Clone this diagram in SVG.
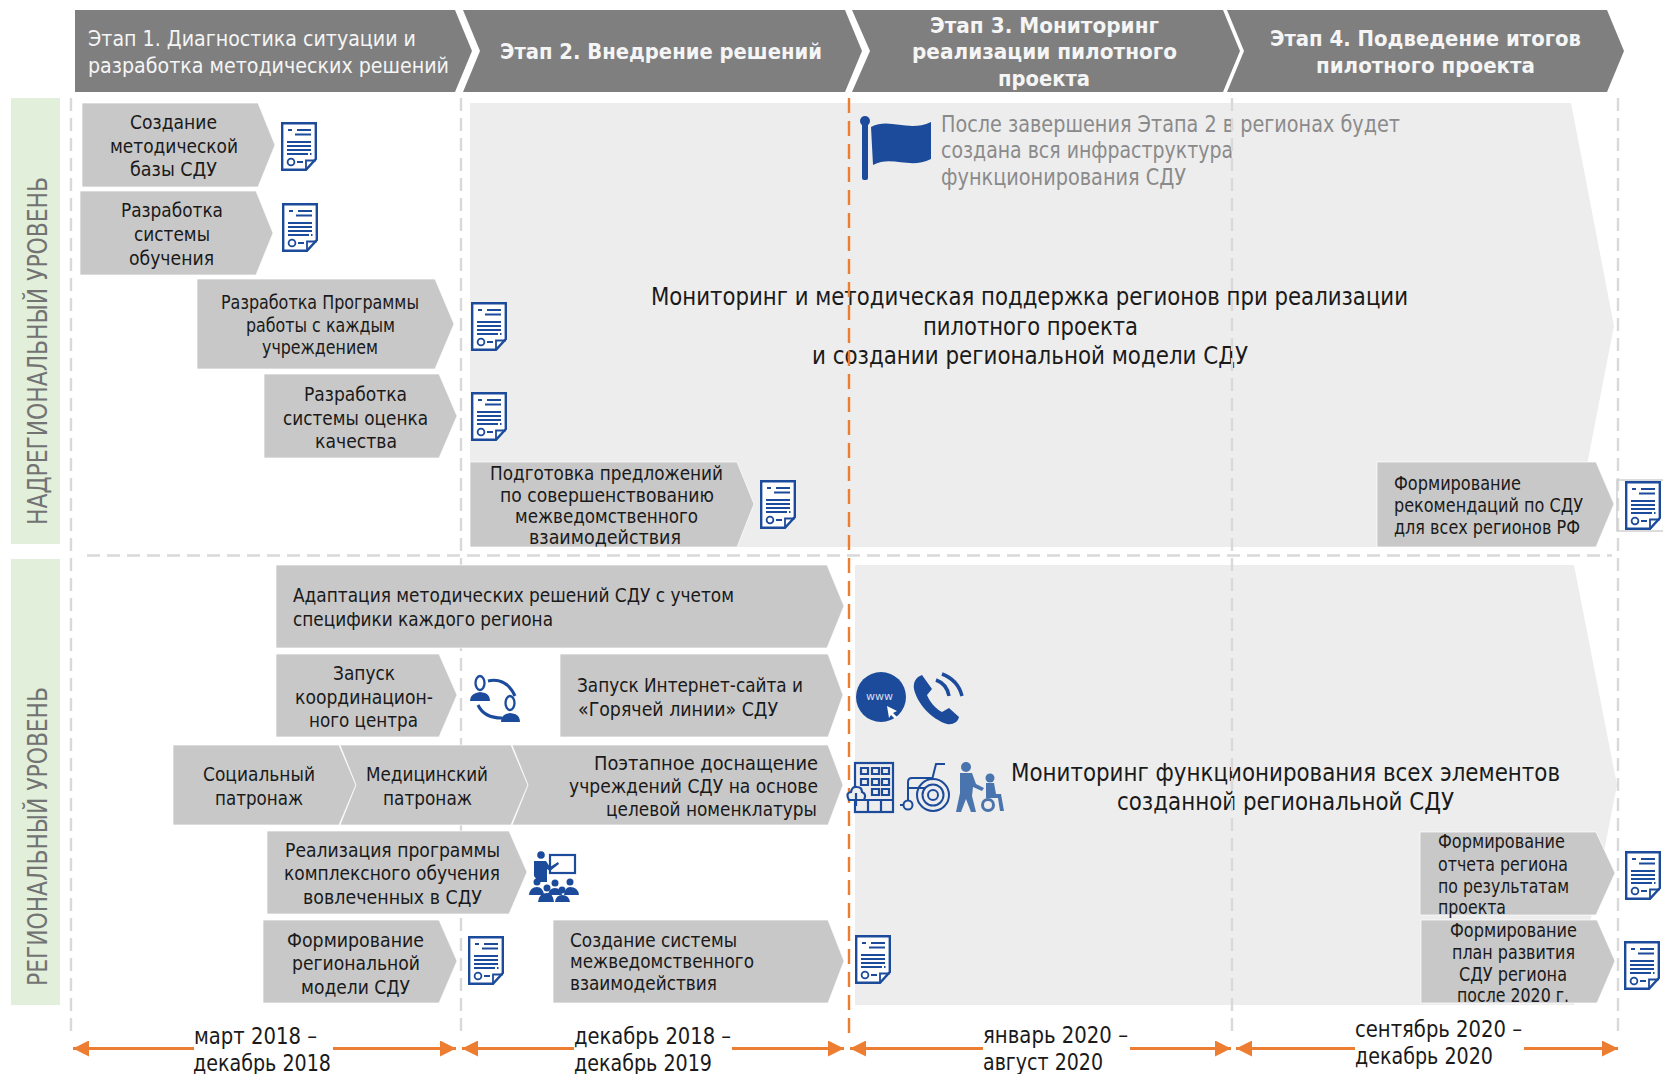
<svg xmlns="http://www.w3.org/2000/svg" width="1663" height="1074" viewBox="0 0 1663 1074">
<style>
text{font-family:"DejaVu Sans","Noto Sans",sans-serif;font-stretch:condensed;fill:#1a1a1a;font-size:20px}
.hd{fill:#7f7f7f}.ch{fill:#c8c8c8;stroke:#fff;stroke-width:1;stroke-opacity:.7}.bg{fill:#ededed}.gr{fill:#e2efda}
.hl{fill:#f5f5f5;font-size:22px}.hb{fill:#f5f5f5;font-size:22px;font-weight:bold}
.lv{fill:#737373;font-size:27px}.big{font-size:24px}.note{font-size:23px;fill:#8a8a8a}.dt{font-size:23px}
.dash{stroke:#d9d9d9;stroke-width:2.4;stroke-dasharray:13 7;fill:none}
.org{stroke:#ed7d31;stroke-width:2.4;stroke-dasharray:15 8;fill:none}
.arr{stroke:#ed7d31;stroke-width:3;fill:none;marker-end:url(#ah)}
.ics{fill:#1d4b9b}.icl{fill:#4a74ad}
.icw{fill:none;stroke:#1d4b9b;stroke-width:2}
</style>
<defs>
<marker id="ah" markerUnits="userSpaceOnUse" markerWidth="16" markerHeight="16" refX="16" refY="8" orient="auto"><path d="M0,0L16,8L0,16Z" fill="#ed7d31"/></marker>
<symbol id="doc" viewBox="0 0 36 49" width="36" height="49" overflow="visible">
<path d="M1.2,1.2H34.8V37L25,47.8H1.2Z" fill="#fff" stroke="#1d4b9b" stroke-width="2.4"/>
<path d="M25,47.8V38.5H34.8" fill="none" stroke="#1d4b9b" stroke-width="1.8"/>
<path d="M7,8h4M16,8h14M14,12.5h16M6,20h24M6,24h24M6,28h24M6,32h21M29,32h1.5M16,40h6" stroke="#1d4b9b" stroke-width="1.8" fill="none"/>
<circle cx="10" cy="40" r="3.4" fill="none" stroke="#1d4b9b" stroke-width="1.8"/>
</symbol>
</defs>

<g id="background-arrows">
<path class="bg" d="M470,103H1571L1614,326L1571,547H470Z"/>
<path class="bg" d="M855,565H1574L1617,785L1574,1005H855Z"/>
</g>
<g id="level-bands">
<rect class="gr" x="11" y="98" width="49" height="446"/>
<rect class="gr" x="11" y="559" width="49" height="446"/>
<text class="lv" transform="translate(47,525) rotate(-90)" textLength="348" lengthAdjust="spacingAndGlyphs">НАДРЕГИОНАЛЬНЫЙ УРОВЕНЬ</text>
<text class="lv" transform="translate(47,986) rotate(-90)" textLength="299" lengthAdjust="spacingAndGlyphs">РЕГИОНАЛЬНЫЙ УРОВЕНЬ</text>
</g>

<g id="dates">
<text class="dt" x="194" y="1044" textLength="123" lengthAdjust="spacingAndGlyphs">март 2018 –</text>
<text class="dt" x="193" y="1071" textLength="138" lengthAdjust="spacingAndGlyphs">декабрь 2018</text>
<text class="dt" x="574" y="1044" textLength="157" lengthAdjust="spacingAndGlyphs">декабрь 2018 –</text>
<text class="dt" x="574" y="1071" textLength="138" lengthAdjust="spacingAndGlyphs">декабрь 2019</text>
<text class="dt" x="983" y="1043" textLength="145" lengthAdjust="spacingAndGlyphs">январь 2020 –</text>
<text class="dt" x="983" y="1070" textLength="120" lengthAdjust="spacingAndGlyphs">август 2020</text>
<text class="dt" x="1355" y="1037" textLength="167" lengthAdjust="spacingAndGlyphs">сентябрь 2020 –</text>
<text class="dt" x="1355" y="1064" textLength="138" lengthAdjust="spacingAndGlyphs">декабрь 2020</text>
</g>

<g id="note-flag">
<circle class="ics" cx="865" cy="121" r="5"/><rect class="ics" x="862" y="121" width="6" height="59" rx="2"/>
<path class="ics" d="M871,127C890,117 908,133 931,122V159C910,170 892,155 873,165Z"/>
<text class="note" x="941" y="132" textLength="459" lengthAdjust="spacingAndGlyphs">После завершения Этапа 2 в регионах будет</text>
<text class="note" x="941" y="158" textLength="292" lengthAdjust="spacingAndGlyphs">создана вся инфраструктура</text>
<text class="note" x="941" y="185" textLength="245" lengthAdjust="spacingAndGlyphs">функционирования СДУ</text>
</g>
<g id="monitoring-1">
<text class="big" x="651" y="305" textLength="757" lengthAdjust="spacingAndGlyphs">Мониторинг и методическая поддержка регионов при реализации</text>
<text class="big" x="923" y="335" textLength="215" lengthAdjust="spacingAndGlyphs">пилотного проекта</text>
<text class="big" x="812" y="364" textLength="436" lengthAdjust="spacingAndGlyphs">и создании региональной модели СДУ</text>
</g>
<g id="monitoring-2">
<text class="big" x="1011" y="781" textLength="549" lengthAdjust="spacingAndGlyphs">Мониторинг функционирования всех элементов</text>
<text class="big" x="1117" y="810" textLength="337" lengthAdjust="spacingAndGlyphs">созданной региональной СДУ</text>
</g>

<g id="connectors">
<path class="dash" d="M71,98V1034M461,98V1034M1232,98V1034M1618,98V1034M87,555.500H1612"/>
<path class="org" d="M849,98V1034"/>
<path class="arr" d="M194,1048.500H73"/><path class="arr" d="M333,1048.500H456"/>
<path class="arr" d="M574,1048.500H462"/><path class="arr" d="M732,1048.500H844"/>
<path class="arr" d="M983,1048.500H850"/><path class="arr" d="M1130,1048.500H1231"/>
<path class="arr" d="M1355,1048.500H1236"/><path class="arr" d="M1524,1048.500H1618"/>
</g>

<g id="stage-1"><path class="hd" d="M75,10H455L472,51L455,92H75Z"/>
<text class="hl" x="88" y="46" textLength="328" lengthAdjust="spacingAndGlyphs">Этап 1. Диагностика ситуации и</text>
<text class="hl" x="88" y="73" textLength="361" lengthAdjust="spacingAndGlyphs">разработка методических решений</text></g>
<g id="stage-2"><path class="hd" d="M463,10H845L862,51L845,92H463L480,51Z"/>
<text class="hb" x="500" y="59" textLength="322" lengthAdjust="spacingAndGlyphs">Этап 2. Внедрение решений</text></g>
<g id="stage-3"><path class="hd" d="M852,10H1223L1240,51L1223,92H852L870,51Z"/>
<text class="hb" x="930" y="33" textLength="229" lengthAdjust="spacingAndGlyphs">Этап 3. Мониторинг</text>
<text class="hb" x="912" y="59" textLength="265" lengthAdjust="spacingAndGlyphs">реализации пилотного</text>
<text class="hb" x="998" y="86" textLength="92" lengthAdjust="spacingAndGlyphs">проекта</text></g>
<g id="stage-4"><path class="hd" d="M1227,10H1607L1624,51L1607,92H1227L1244,51Z"/>
<text class="hb" x="1270" y="46" textLength="311" lengthAdjust="spacingAndGlyphs">Этап 4. Подведение итогов</text>
<text class="hb" x="1316" y="73" textLength="219" lengthAdjust="spacingAndGlyphs">пилотного проекта</text></g>

<g id="node-a"><path class="ch" d="M82,103H258L275,145L258,187H82Z"/>
<text x="130" y="129" textLength="87" lengthAdjust="spacingAndGlyphs">Создание</text>
<text x="110" y="153" textLength="128" lengthAdjust="spacingAndGlyphs">методической</text>
<text x="130" y="176" textLength="87" lengthAdjust="spacingAndGlyphs">базы СДУ</text>
<use href="#doc" x="281" y="122"/></g>
<g id="node-b"><path class="ch" d="M80,191H256L273,233L256,275H80Z"/>
<text x="121" y="217" textLength="102" lengthAdjust="spacingAndGlyphs">Разработка</text>
<text x="134" y="241" textLength="76" lengthAdjust="spacingAndGlyphs">системы</text>
<text x="129" y="265" textLength="85" lengthAdjust="spacingAndGlyphs">обучения</text>
<use href="#doc" x="282" y="203"/></g>
<g id="node-c"><path class="ch" d="M197,279H435L454,324L435,369H197Z"/>
<text x="221" y="309" textLength="198" lengthAdjust="spacingAndGlyphs">Разработка Программы</text>
<text x="246" y="332" textLength="149" lengthAdjust="spacingAndGlyphs">работы с каждым</text>
<text x="262" y="354" textLength="116" lengthAdjust="spacingAndGlyphs">учреждением</text>
<use href="#doc" x="471" y="302"/></g>
<g id="node-d"><path class="ch" d="M264,374H439L457,416L439,458H264Z"/>
<text x="304" y="401" textLength="103" lengthAdjust="spacingAndGlyphs">Разработка</text>
<text x="283" y="425" textLength="145" lengthAdjust="spacingAndGlyphs">системы оценка</text>
<text x="315" y="448" textLength="82" lengthAdjust="spacingAndGlyphs">качества</text>
<use href="#doc" x="471" y="392"/></g>
<g id="node-e"><path class="ch" d="M470,462H737L754,504L737,547H470Z"/>
<text x="490" y="480" textLength="233" lengthAdjust="spacingAndGlyphs">Подготовка предложений</text>
<text x="500" y="502" textLength="214" lengthAdjust="spacingAndGlyphs">по совершенствованию</text>
<text x="515" y="523" textLength="183" lengthAdjust="spacingAndGlyphs">межведомственного</text>
<text x="529" y="544" textLength="152" lengthAdjust="spacingAndGlyphs">взаимодействия</text>
<use href="#doc" x="760" y="480"/></g>
<g id="node-f"><path class="ch" d="M1377,462H1596L1614,504L1596,547H1377Z"/>
<text x="1394" y="490" textLength="127" lengthAdjust="spacingAndGlyphs">Формирование</text>
<text x="1394" y="512" textLength="189" lengthAdjust="spacingAndGlyphs">рекомендаций по СДУ</text>
<text x="1394" y="534" textLength="186" lengthAdjust="spacingAndGlyphs">для всех регионов РФ</text>
<path d="M1663,480H1617V531H1663" fill="none" stroke="#cfcfcf" stroke-width="1.5"/>
<use href="#doc" x="1625" y="481"/></g>
<g id="node-g"><path class="ch" d="M276,565H827L844,606L827,648H276Z"/>
<text x="293" y="602" textLength="441" lengthAdjust="spacingAndGlyphs">Адаптация методических решений СДУ с учетом</text>
<text x="293" y="626" textLength="260" lengthAdjust="spacingAndGlyphs">специфики каждого региона</text></g>
<g id="node-h"><path class="ch" d="M276,654H439L457,695L439,737H276Z"/>
<text x="333" y="680" textLength="62" lengthAdjust="spacingAndGlyphs">Запуск</text>
<text x="295" y="704" textLength="138" lengthAdjust="spacingAndGlyphs">координацион-</text>
<text x="309" y="727" textLength="109" lengthAdjust="spacingAndGlyphs">ного центра</text>
<g id="icon-hub">
<path d="M488,681Q506,677 515,696M478,705Q484,718 502,718" fill="none" stroke="#1d4b9b" stroke-width="3"/>
<path class="ics" d="M470,701Q470,695 476,693L480,692L485,693Q490,695 490,701Z"/>
<ellipse cx="480" cy="683" rx="4.500" ry="7" fill="#fff" stroke="#1d4b9b" stroke-width="2.300"/>
<path class="ics" d="M501,722Q501,716 506,714L510,713L515,714Q520,716 520,722Z"/>
<ellipse cx="510" cy="703" rx="4.500" ry="7" fill="#fff" stroke="#1d4b9b" stroke-width="2.300"/>
</g></g>
<g id="node-i"><path class="ch" d="M560,654H828L843,695L828,737H560Z"/>
<text x="577" y="692" textLength="226" lengthAdjust="spacingAndGlyphs">Запуск Интернет-сайта и</text>
<text x="578" y="716" textLength="200" lengthAdjust="spacingAndGlyphs">«Горячей линии» СДУ</text>
<g id="icon-www"><circle class="ics" cx="881" cy="697" r="25"/>
<text x="866" y="700" style="font-size:11px;fill:#d5def0" textLength="27" lengthAdjust="spacingAndGlyphs">www</text>
<path d="M887,706L897,711L893,713L897,717L895,719L891,715L889,718Z" fill="#fff"/></g>
<g id="icon-phone">
<path class="ics" d="M922,675C916,677 913,682 914,689C917,703 931,719 947,724C953,725 958,722 959,717L949,708L942,712C936,709 929,701 927,695L932,689Z"/>
<path d="M936,680Q947,684 949,696M942,674Q958,680 962,696" fill="none" stroke="#1d4b9b" stroke-width="3.500"/></g></g>
<g id="node-j"><path class="ch" d="M173,745H339L356,785L339,825H173Z"/>
<text x="203" y="781" textLength="112" lengthAdjust="spacingAndGlyphs">Социальный</text>
<text x="215" y="805" textLength="88" lengthAdjust="spacingAndGlyphs">патронаж</text></g>
<g id="node-k"><path class="ch" d="M340,745H511L528,785L511,825H340L356,785Z"/>
<text x="366" y="781" textLength="122" lengthAdjust="spacingAndGlyphs">Медицинский</text>
<text x="383" y="805" textLength="89" lengthAdjust="spacingAndGlyphs">патронаж</text></g>
<g id="node-l"><path class="ch" d="M512,745H828L843,785L828,825H512L528,785Z"/>
<text x="594" y="770" textLength="224" lengthAdjust="spacingAndGlyphs">Поэтапное доснащение</text>
<text x="569" y="793" textLength="249" lengthAdjust="spacingAndGlyphs">учреждений СДУ на основе</text>
<text x="606" y="816" textLength="211" lengthAdjust="spacingAndGlyphs">целевой номенклатуры</text>
<g id="icon-building" fill="none" stroke="#1d4b9b" stroke-width="2.200">
<rect x="855" y="763" width="38" height="49"/>
<path d="M861,768h7v6h-7zM872,768h7v6h-7zM882,768h7v6h-7zM861,779h7v6h-7zM872,779h7v6h-7zM882,779h7v6h-7zM872,789h7v6h-7zM882,789h7v6h-7zM862,800H893M868,800V812M881,800V812"/>
<path d="M849,800Q845,793 851,792Q852,786 857,787Q862,787 862,792Q867,794 864,800Z" fill="#ededed"/><path d="M856,793V806"/></g>
<g id="icon-wheelchair" class="icw">
<circle cx="933" cy="795" r="16"/><circle cx="933" cy="795" r="10.500"/><circle cx="933" cy="795" r="5"/>
<circle cx="908" cy="805" r="4.500"/><path d="M945,764H936L932,780M932,778H912Q908,778 908,782V788H926M908,788V800M903,805H900"/></g>
<g id="icon-people"><circle class="icl" cx="966" cy="767" r="5"/>
<path class="icl" d="M960,773H972L976,784L984,788L982,791L973,787L972,796L976,812H971L966,799L961,812H956L960,793Z"/>
<circle class="icl" cx="990" cy="778" r="4.500"/>
<path class="icl" d="M986,783H994L996,794H1001L1004,811H1000L998,798H986Z"/>
<circle cx="988" cy="805" r="5.500" fill="none" stroke="#4a74ad" stroke-width="3"/></g></g>
<g id="node-m"><path class="ch" d="M267,831H509L527,872L509,914H267Z"/>
<text x="285" y="857" textLength="215" lengthAdjust="spacingAndGlyphs">Реализация программы</text>
<text x="284" y="880" textLength="216" lengthAdjust="spacingAndGlyphs">комплексного обучения</text>
<text x="303" y="904" textLength="179" lengthAdjust="spacingAndGlyphs">вовлеченных в СДУ</text>
<g id="icon-teacher">
<rect x="550" y="855" width="25" height="18" fill="#fff" stroke="#1d4b9b" stroke-width="2.200"/>
<circle class="ics" cx="541" cy="855" r="3.800"/>
<path class="ics" d="M534,861H546L550,867L558,862L559,864L550,871L547,869V882H537V880L534,876Z"/>
<g class="ics"><circle cx="537" cy="882" r="3.500"/><circle cx="555" cy="883" r="3.500"/><circle cx="570" cy="882" r="3.500"/><circle cx="547" cy="888" r="3.500"/><circle cx="562" cy="890" r="3.500"/>
<path d="M529,895Q530,887 537,887Q543,887 544,895ZM548,895Q549,888 555,888Q561,888 562,895ZM564,895Q565,887 570,887Q578,887 579,895ZM538,902Q539,893 547,893Q553,893 554,902ZM555,902Q556,895 562,895Q569,895 570,902Z"/></g></g></g>
<g id="node-n"><path class="ch" d="M263,920H439L457,961L439,1003H263Z"/>
<text x="287" y="947" textLength="137" lengthAdjust="spacingAndGlyphs">Формирование</text>
<text x="292" y="970" textLength="128" lengthAdjust="spacingAndGlyphs">региональной</text>
<text x="301" y="994" textLength="109" lengthAdjust="spacingAndGlyphs">модели СДУ</text>
<use href="#doc" x="468" y="936"/></g>
<g id="node-o"><path class="ch" d="M553,920H828L844,961L828,1003H553Z"/>
<text x="570" y="947" textLength="167" lengthAdjust="spacingAndGlyphs">Создание системы</text>
<text x="570" y="968" textLength="184" lengthAdjust="spacingAndGlyphs">межведомственного</text>
<text x="570" y="990" textLength="147" lengthAdjust="spacingAndGlyphs">взаимодействия</text>
<use href="#doc" x="855" y="935"/></g>
<g id="node-p"><path class="ch" d="M1420,832H1596L1615,873L1596,915H1420Z"/>
<text x="1438" y="848" textLength="127" lengthAdjust="spacingAndGlyphs">Формирование</text>
<text x="1438" y="871" textLength="130" lengthAdjust="spacingAndGlyphs">отчета региона</text>
<text x="1438" y="893" textLength="131" lengthAdjust="spacingAndGlyphs">по результатам</text>
<text x="1438" y="914" textLength="68" lengthAdjust="spacingAndGlyphs">проекта</text>
<use href="#doc" x="1625" y="851"/></g>
<g id="node-q"><path class="ch" d="M1421,920H1597L1615,961L1597,1003H1421Z"/>
<text x="1450" y="937" textLength="127" lengthAdjust="spacingAndGlyphs">Формирование</text>
<text x="1452" y="959" textLength="123" lengthAdjust="spacingAndGlyphs">план развития</text>
<text x="1459" y="981" textLength="108" lengthAdjust="spacingAndGlyphs">СДУ региона</text>
<text x="1457" y="1002" textLength="112" lengthAdjust="spacingAndGlyphs">после 2020 г.</text>
<use href="#doc" x="1624" y="941"/></g>
</svg>
